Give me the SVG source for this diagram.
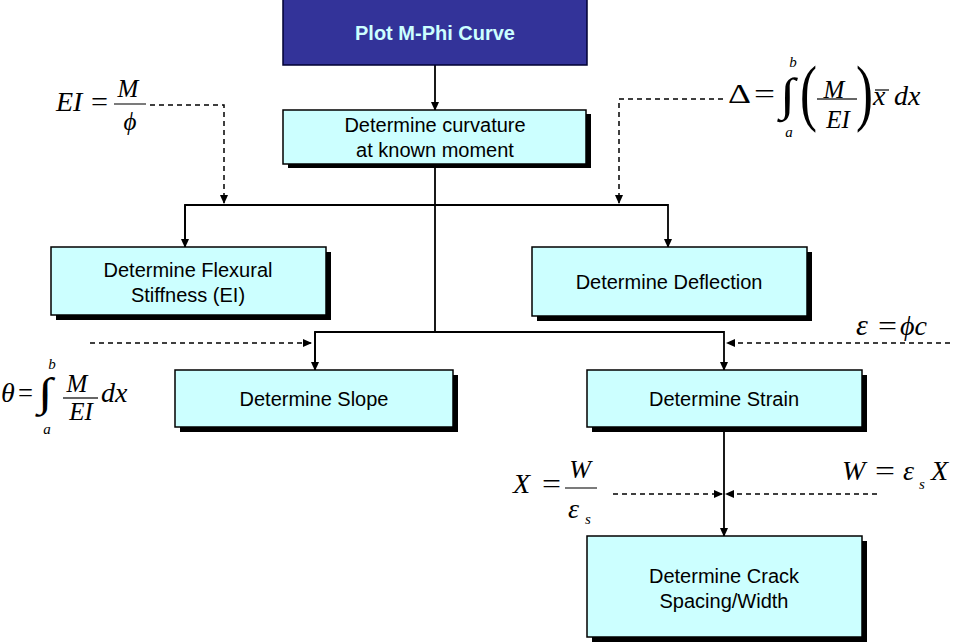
<svg xmlns="http://www.w3.org/2000/svg" width="956" height="644" viewBox="0 0 956 644">
<style>
.box{fill:#ccffff;stroke:#000;stroke-width:1.5}
.sh{fill:#000}
.lbl{font-family:"Liberation Sans",Arial,sans-serif;font-size:20px;fill:#000;text-anchor:middle}
.ln{fill:none;stroke:#000;stroke-width:1.8}
.dash{fill:none;stroke:#000;stroke-width:1.5;stroke-dasharray:5 4}
.m{font-family:"Liberation Serif","Times New Roman","DejaVu Serif",serif;font-style:italic;font-size:28px;fill:#000}
.mu{font-family:"Liberation Serif","Times New Roman","DejaVu Serif",serif;font-size:28px;fill:#000}
.ms{font-family:"Liberation Serif","Times New Roman",serif;font-style:italic;font-size:15px;fill:#000}
.fr{stroke:#333;stroke-width:1.3}
</style>
<defs>
<marker id="ah" markerUnits="userSpaceOnUse" markerWidth="9" markerHeight="8" refX="8" refY="4" orient="auto">
<path d="M0,0 L9,4 L0,8 z" fill="#000"/>
</marker>
</defs>

<g id="connectors">
<line class="ln" x1="435" y1="65" x2="435" y2="110" marker-end="url(#ah)"/>
<polyline class="ln" points="435,164 435,332"/>
<polyline class="ln" points="185,247 185,205 668,205 668,247" marker-end="url(#ah)"/>
<line class="ln" x1="185" y1="205" x2="185" y2="247" marker-end="url(#ah)"/>
<polyline class="ln" points="315,370 315,332 724,332 724,370" marker-end="url(#ah)"/>
<line class="ln" x1="315" y1="332" x2="315" y2="370" marker-end="url(#ah)"/>
<line class="ln" x1="724" y1="427" x2="724" y2="536" marker-end="url(#ah)"/>
<polyline class="dash" points="150,105 224,105 224,203" marker-end="url(#ah)"/>
<polyline class="dash" points="723,99 619,99 619,203" marker-end="url(#ah)"/>
<line class="dash" x1="90" y1="343" x2="311" y2="343" marker-end="url(#ah)"/>
<line class="dash" x1="950" y1="343" x2="727" y2="343" marker-end="url(#ah)"/>
<line class="dash" x1="613" y1="494" x2="722" y2="494" marker-end="url(#ah)"/>
<line class="dash" x1="877" y1="494" x2="726" y2="494" marker-end="url(#ah)"/>
</g>

<g id="plot">
<rect x="283" y="-1" width="304" height="66" fill="#333399" stroke="#000033" stroke-width="1.5"/>
<text x="435" y="40" class="lbl" style="font-weight:bold;fill:#ccffff">Plot M-Phi Curve</text>
</g>

<g id="curvature">
<rect class="sh" x="288" y="114" width="303" height="54"/>
<rect class="box" x="283" y="110" width="303" height="54"/>
<text x="435" y="132" class="lbl">Determine curvature</text>
<text x="435" y="157" class="lbl">at known moment</text>
</g>

<g id="flexural">
<rect class="sh" x="56" y="252" width="275" height="68"/>
<rect class="box" x="51" y="247" width="275" height="68"/>
<text x="188" y="277" class="lbl">Determine Flexural</text>
<text x="188" y="302" class="lbl">Stiffness (EI)</text>
</g>

<g id="deflection">
<rect class="sh" x="537" y="252" width="275" height="69"/>
<rect class="box" x="532" y="247" width="275" height="69"/>
<text x="669" y="289" class="lbl">Determine Deflection</text>
</g>

<g id="slope">
<rect class="sh" x="180" y="375" width="278" height="57"/>
<rect class="box" x="175" y="370" width="278" height="57"/>
<text x="314" y="406" class="lbl">Determine Slope</text>
</g>

<g id="strain">
<rect class="sh" x="592" y="375" width="275" height="57"/>
<rect class="box" x="587" y="370" width="275" height="57"/>
<text x="724" y="406" class="lbl">Determine Strain</text>
</g>

<g id="crack">
<rect class="sh" x="592" y="541" width="275" height="101"/>
<rect class="box" x="587" y="536" width="275" height="101"/>
<text x="724" y="583" class="lbl">Determine Crack</text>
<text x="724" y="608" class="lbl">Spacing/Width</text>
</g>

<g id="eq-EI">
<text x="56" y="111" class="m">EI</text>
<text x="91" y="111" class="mu" textLength="17" lengthAdjust="spacingAndGlyphs">=</text>
<line class="fr" x1="114" y1="104" x2="146" y2="104"/>
<text x="128" y="97" class="m" style="font-size:25px" text-anchor="middle">M</text>
<text x="130" y="130" class="m" style="font-size:25px" text-anchor="middle">ϕ</text>
</g>

<g id="eq-delta">
<text x="728" y="103" class="mu" textLength="23" lengthAdjust="spacingAndGlyphs">Δ</text>
<text x="754" y="103" class="mu" textLength="21" lengthAdjust="spacingAndGlyphs">=</text>
<text transform="translate(780,110) scale(1.2,1)" class="mu" style="font-size:46px">∫</text>
<text x="793" y="67" class="ms" text-anchor="middle">b</text>
<text x="789" y="137" class="ms" text-anchor="middle">a</text>
<text transform="translate(800,117) scale(0.68,1)" class="mu" style="font-size:75px">(</text>
<text x="834" y="98" class="m" style="font-size:25px" text-anchor="middle">M</text>
<line class="fr" x1="817" y1="99" x2="857" y2="99"/>
<text x="838" y="128" class="m" style="font-size:25px" text-anchor="middle">EI</text>
<text transform="translate(856,117) scale(0.68,1)" class="mu" style="font-size:75px">)</text>
<text x="873" y="105" class="m">x</text>
<line x1="875" y1="90" x2="889" y2="90" stroke="#000" stroke-width="1.2"/>
<text x="894" y="105" class="m">dx</text>
</g>

<g id="eq-theta">
<text x="1" y="402" class="m">θ</text>
<text x="18" y="402" class="mu" textLength="15" lengthAdjust="spacingAndGlyphs">=</text>
<text transform="translate(38,406) scale(1.15,0.88)" class="mu" style="font-size:46px">∫</text>
<text x="52" y="369" class="ms" text-anchor="middle">b</text>
<text x="47" y="434" class="ms" text-anchor="middle">a</text>
<text x="77" y="392" class="m" style="font-size:25px" text-anchor="middle">M</text>
<line class="fr" x1="63" y1="398" x2="98" y2="398"/>
<text x="81" y="420" class="m" style="font-size:25px" text-anchor="middle">EI</text>
<text x="101" y="402" class="m">dx</text>
</g>

<g id="eq-strain">
<text x="856" y="335" class="m" style="font-size:30px">ε</text>
<text x="878" y="335" class="mu" textLength="19" lengthAdjust="spacingAndGlyphs">=</text>
<text x="900" y="335" class="m">ϕc</text>
</g>

<g id="eq-X">
<text x="513" y="493" class="m">X</text>
<text x="542" y="493" class="mu" textLength="19" lengthAdjust="spacingAndGlyphs">=</text>
<text x="580" y="478" class="m" style="font-size:26px" text-anchor="middle">W</text>
<line class="fr" x1="565" y1="488" x2="597" y2="488"/>
<text x="568" y="518" class="m" style="font-size:28px">ε</text>
<text x="585" y="524" class="ms">s</text>
</g>

<g id="eq-W">
<text x="842" y="480" class="m">W</text>
<text x="875" y="480" class="mu" textLength="20" lengthAdjust="spacingAndGlyphs">=</text>
<text x="903" y="480" class="m">ε</text>
<text x="919" y="489" class="ms">s</text>
<text x="931" y="480" class="m">X</text>
</g>
</svg>
